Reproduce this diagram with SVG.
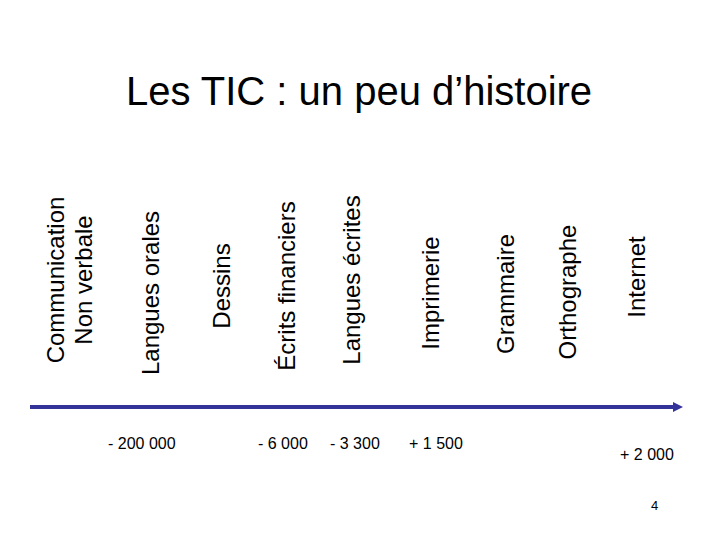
<svg xmlns="http://www.w3.org/2000/svg" width="720" height="540" viewBox="0 0 720 540">
<style>
text{font-family:"Liberation Sans",Arial,sans-serif;fill:#000}
.v{font-size:24px;text-anchor:middle}
.d{font-size:16px}
</style>
<defs>
<marker id="ah" markerWidth="10" markerHeight="10" refX="2" refY="5" orient="auto" markerUnits="userSpaceOnUse" viewBox="0 0 10 10">
<path d="M0,0 L10,5 L0,10 Z" fill="#333399"/>
</marker>
</defs>
<rect width="720" height="540" fill="#fff"/>
<text x="359" y="105" font-size="40" text-anchor="middle">Les TIC : un peu d’histoire</text>
<g id="connectors">
<line x1="30" y1="407" x2="675" y2="407" stroke="#333399" stroke-width="4" marker-end="url(#ah)"/>
</g>
<g id="n-communication"><text class="v" transform="translate(64,280) rotate(-90)">Communication</text><text class="v" transform="translate(92,280) rotate(-90)">Non verbale</text></g>
<g id="n-langues-orales"><text class="v" transform="translate(159,293) rotate(-90)">Langues orales</text></g>
<g id="n-dessins"><text class="v" transform="translate(230,286) rotate(-90)">Dessins</text></g>
<g id="n-ecrits"><text class="v" transform="translate(295,286) rotate(-90)">Écrits financiers</text></g>
<g id="n-langues-ecrites"><text class="v" transform="translate(360,280) rotate(-90)">Langues écrites</text></g>
<g id="n-imprimerie"><text class="v" transform="translate(439,293) rotate(-90)">Imprimerie</text></g>
<g id="n-grammaire"><text class="v" transform="translate(514,294) rotate(-90)">Grammaire</text></g>
<g id="n-orthographe"><text class="v" transform="translate(576,292) rotate(-90)">Orthographe</text></g>
<g id="n-internet"><text class="v" transform="translate(645,277) rotate(-90)">Internet</text></g>
<g id="dates">
<text class="d" x="108" y="449">- 200 000</text>
<text class="d" x="258" y="449">- 6 000</text>
<text class="d" x="330" y="449">- 3 300</text>
<text class="d" x="409" y="449">+ 1 500</text>
<text class="d" x="620" y="460">+ 2 000</text>
</g>
<text x="651" y="510" font-size="13">4</text>
</svg>
